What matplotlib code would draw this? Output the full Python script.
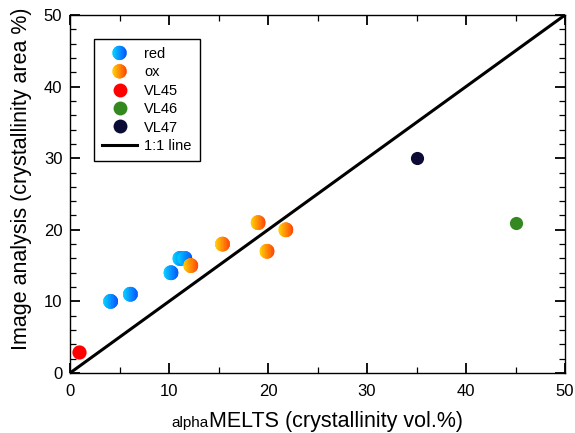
import numpy as np
import matplotlib
matplotlib.use('Agg')
import matplotlib.pyplot as plt
from matplotlib.patches import Polygon
from matplotlib.lines import Line2D
from matplotlib.legend_handler import HandlerBase
from matplotlib.transforms import ScaledTranslation
from matplotlib.colors import to_rgb
import matplotlib.ticker as mtick

plt.rcParams['font.family'] = ['Liberation Sans', 'DejaVu Sans']

# dados
red_x = [4.1, 6.1, 10.2, 11.1, 11.6]
red_y = [10, 11, 14, 16, 16]
ox_x = [12.2, 15.4, 19.0, 19.9, 21.8]
ox_y = [15, 18, 21, 17, 20]
vl45_x, vl45_y = [0.9], [3]
vl46_x, vl46_y = [45.0], [21]
vl47_x, vl47_y = [35.0], [30]
line_x = [0, 50]

RED_C = ('#00d4ff', '#0052ff')
OX_C = ('#ffd400', '#ff4200')


def mix(c0, c1, t):
    a, b = np.array(to_rgb(c0)), np.array(to_rgb(c1))
    return tuple((1 - t) * a + t * b)


def faixas(cx, cy, r, n=24):
    polys = []
    for i in range(n):
        x0 = -r + 2 * r * i / n
        x1 = x0 + 2 * r / n
        xs = np.linspace(x0, x1, 6)
        h = np.sqrt(np.clip(r ** 2 - xs ** 2, 0, None))
        v = np.column_stack([np.r_[xs, xs[::-1]], np.r_[h, -h[::-1]]]) + [cx, cy]
        polys.append((v, (i + 0.5) / n))
    return polys


def ponto_gradiente(ax, fig, x, y, cores, r=0.072):
    trans = fig.dpi_scale_trans + ScaledTranslation(x, y, ax.transData)
    for v, t in faixas(0, 0, r):
        c = mix(cores[0], cores[1], t)
        ax.add_patch(Polygon(v, closed=True, facecolor=c, edgecolor=c, lw=0.3,
                             transform=trans, zorder=3))


class HandlerGradiente(HandlerBase):
    def __init__(self, cores):
        super().__init__()
        self.cores = cores

    def create_artists(self, legend, orig_handle, xdescent, ydescent, width, height, fontsize, trans):
        cx, cy = width / 2 - xdescent, height / 2 - ydescent
        arts = []
        for v, t in faixas(cx, cy, 5.0):
            c = mix(self.cores[0], self.cores[1], t)
            arts.append(Polygon(v, closed=True, facecolor=c, edgecolor=c, lw=0.3, transform=trans))
        return arts


W, H = 575, 433
fig = plt.figure(figsize=(W / 100, H / 100), dpi=100)
ax = fig.add_axes([70 / W, 1 - 373 / H, 495 / W, 358 / H])
ax.set_xlim(0, 50)
ax.set_ylim(0, 50)

ax.plot(line_x, line_x, color='black', lw=2.2, zorder=2)

for x, y in zip(red_x, red_y):
    ponto_gradiente(ax, fig, x, y, RED_C)
for x, y in zip(ox_x, ox_y):
    ponto_gradiente(ax, fig, x, y, OX_C)
ax.scatter(vl45_x, vl45_y, s=105, color='#ff0000', zorder=3, linewidths=0)
ax.scatter(vl46_x, vl46_y, s=90, color='#33891f', zorder=3, linewidths=0)
ax.scatter(vl47_x, vl47_y, s=90, color='#0b0b36', zorder=3, linewidths=0)

ax.xaxis.set_major_locator(mtick.MultipleLocator(10))
ax.xaxis.set_minor_locator(mtick.MultipleLocator(5))
ax.yaxis.set_major_locator(mtick.MultipleLocator(10))
ax.yaxis.set_minor_locator(mtick.MultipleLocator(2))
ax.tick_params(which='both', direction='in', top=True, right=True, labelsize=12)
ax.tick_params(which='major', length=7, width=1.3)
ax.tick_params(which='minor', length=4, width=0.9)
ax.tick_params(axis='x', pad=8)
ax.tick_params(axis='y', pad=5.5)
for s in ax.spines.values():
    s.set_linewidth(1.0)

h_red = Line2D([], [])
h_ox = Line2D([], [])
handles = [
    h_red, h_ox,
    Line2D([], [], ls='none', marker='o', ms=10, mfc='#ff0000', mec='none'),
    Line2D([], [], ls='none', marker='o', ms=10, mfc='#33891f', mec='none'),
    Line2D([], [], ls='none', marker='o', ms=10, mfc='#0b0b36', mec='none'),
    Line2D([], [], color='black', lw=2.2),
]
labels = ['red', 'ox', 'VL45', 'VL46', 'VL47', '1:1 line']
leg = ax.legend(handles, labels, loc='upper left', bbox_to_anchor=(24 / 495, 334 / 358),
                borderaxespad=0, fontsize=10.5, fancybox=False, edgecolor='black',
                framealpha=1, labelspacing=0.3, handlelength=2.4, handletextpad=0.5,
                borderpad=0.55,
                handler_map={h_red: HandlerGradiente(RED_C), h_ox: HandlerGradiente(OX_C)})
leg.get_frame().set_linewidth(1.0)

# eixo y
fig.text(22 / W, 1 - 179 / H, 'Image analysis (crystallinity area %)', fontsize=15.5,
         rotation=90, ha='center', va='center')

# eixo x com "alpha" menor, conjunto centrado no eixo
r = fig.canvas.get_renderer()
t_a = fig.text(0, 0, 'alpha', fontsize=11, ha='left', va='baseline')
t_m = fig.text(0, 0, 'MELTS (crystallinity vol.%)', fontsize=15.5, ha='left', va='baseline')
wa = t_a.get_window_extent(r).width
wm = t_m.get_window_extent(r).width
x0 = 317 - (wa + wm) / 2
t_a.set_position((x0 / W, 1 - 427 / H))
t_m.set_position(((x0 + wa) / W, 1 - 427 / H))

fig.savefig('out.png', dpi=100)
